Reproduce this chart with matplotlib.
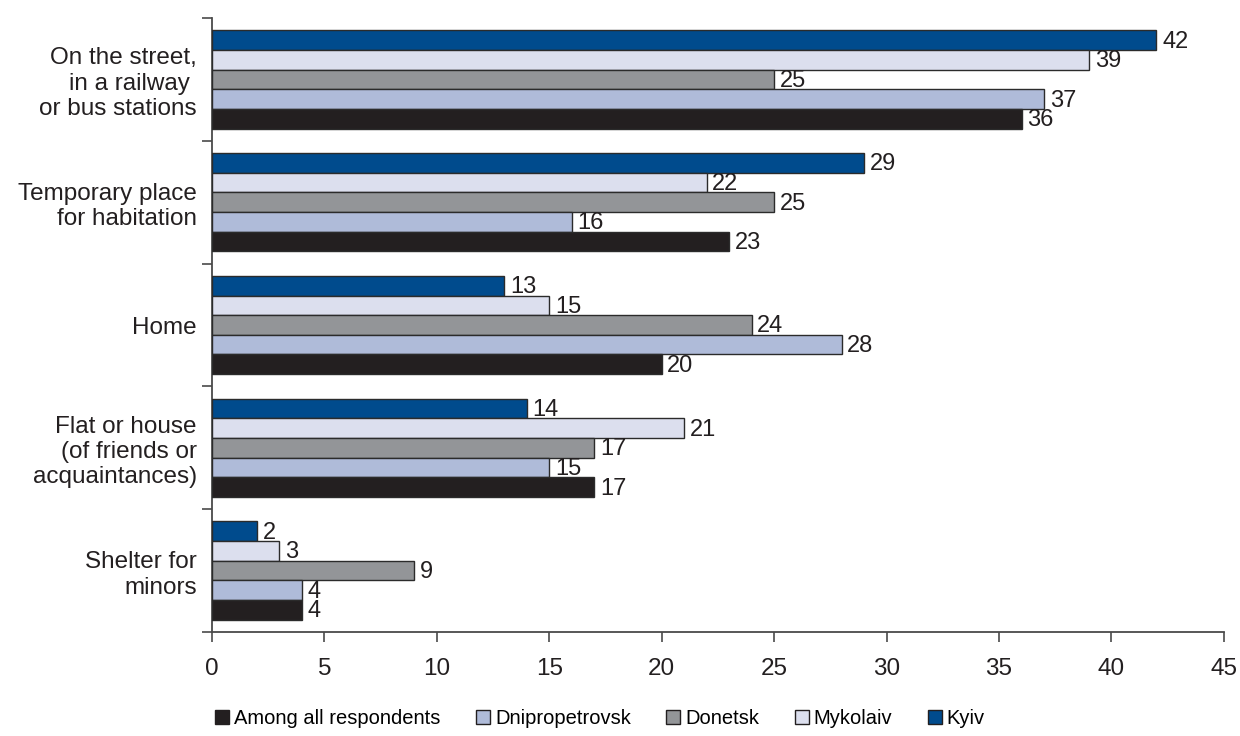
import matplotlib
matplotlib.use("Agg")
import matplotlib.pyplot as plt
from matplotlib.patches import Patch
import numpy as np

plt.rcParams['font.family'] = ['Liberation Sans', 'DejaVu Sans']

categories = [
    "On the street,\nin a railway \nor bus stations",
    "Temporary place\nfor habitation",
    "Home",
    "Flat or house\n(of friends or\nacquaintances)",
    "Shelter for\nminors",
]

# series listed top-to-bottom within each group
series_names = ["Kyiv", "Mykolaiv", "Donetsk", "Dnipropetrovsk", "Among all respondents"]
kyiv = [42, 29, 13, 14, 2]
mykolaiv = [39, 22, 15, 21, 3]
donetsk = [25, 25, 24, 17, 9]
dnipropetrovsk = [37, 16, 28, 15, 4]
among_all = [36, 23, 20, 17, 4]

series_values = [kyiv, mykolaiv, donetsk, dnipropetrovsk, among_all]
colors = ["#004b8d", "#dcdfee", "#939598", "#afbbd9", "#231f20"]

x_ticks = [0, 5, 10, 15, 20, 25, 30, 35, 40, 45]

fig = plt.figure(figsize=(12.4, 7.36), dpi=100)
ax = fig.add_axes([0.171, 0.1413, 0.816, 0.8342])

n_series = len(series_names)
bar_h = 0.16
group_centers = np.arange(len(categories)) + 0.5

for i, (name, vals, col) in enumerate(zip(series_names, series_values, colors)):
    offs = (i - (n_series - 1) / 2) * bar_h
    ys = group_centers + offs
    ax.barh(ys, vals, height=bar_h, color=col, edgecolor="#2b2b2b",
            linewidth=1.0, label=name, zorder=3)
    for y, v in zip(ys, vals):
        ax.text(v + 0.25, y + 0.012, f"{v}", va="center", ha="left",
                fontsize=17, color="#231f20", zorder=4)

ax.set_xlim(0, 45)
ax.set_ylim(len(categories), 0)
ax.set_xticks(x_ticks)
ax.set_xticklabels([str(t) for t in x_ticks], fontsize=17.5, color="#231f20")

ax.set_yticks(group_centers)
ax.set_yticklabels(categories, fontsize=17.5, color="#231f20", ha="right",
                   linespacing=1.2)
ax.tick_params(axis="y", which="major", length=0, pad=11)
ax.set_yticks(np.arange(len(categories) + 1), minor=True)
ax.tick_params(axis="y", which="minor", length=7, width=1.2, color="#4a4a4a")
ax.tick_params(axis="x", which="major", length=7, width=1.2, color="#4a4a4a",
               pad=12)

for side in ["top", "right"]:
    ax.spines[side].set_visible(False)
for side in ["left", "bottom"]:
    ax.spines[side].set_color("#4a4a4a")
    ax.spines[side].set_linewidth(1.3)

legend_order = ["Among all respondents", "Dnipropetrovsk", "Donetsk", "Mykolaiv", "Kyiv"]
handles = [Patch(facecolor=colors[series_names.index(n)], edgecolor="#231f20",
                 linewidth=1.0) for n in legend_order]
fig.legend(handles, legend_order, loc="center", bbox_to_anchor=(0.484, 0.024),
           ncol=5, frameon=False, fontsize=14.5, handlelength=0.7,
           handleheight=0.7, handletextpad=0.25, columnspacing=1.75)

fig.savefig("out.png", dpi=100, facecolor="white")
